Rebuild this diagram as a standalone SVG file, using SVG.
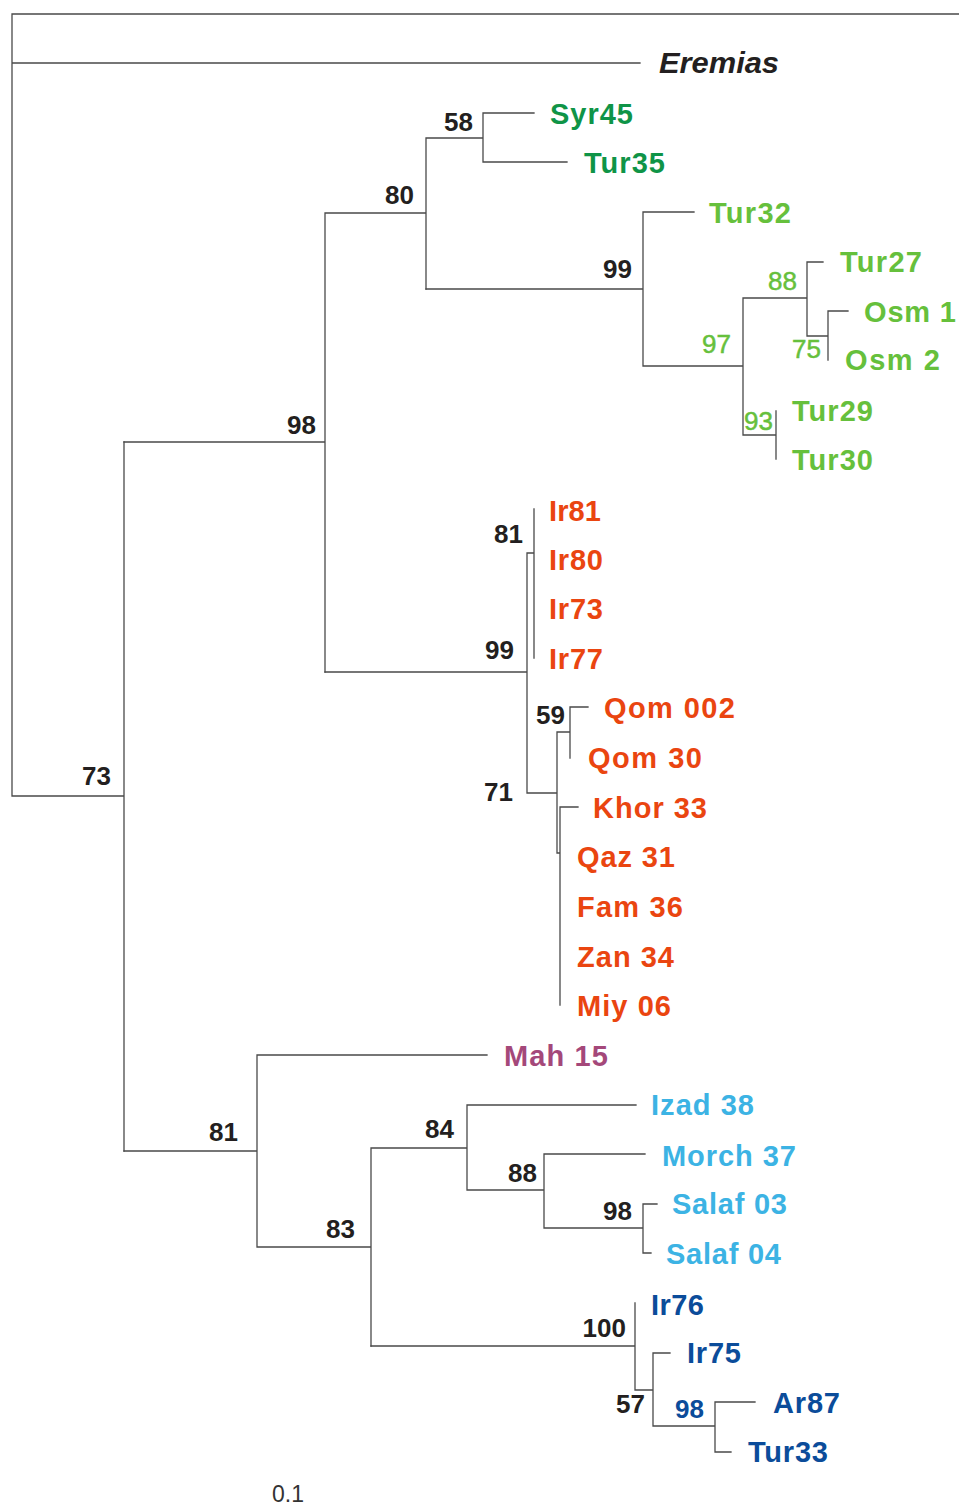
<svg xmlns="http://www.w3.org/2000/svg" width="959" height="1506" viewBox="0 0 959 1506">
<style>
.e{fill:none;stroke:#4a4a4a;stroke-width:1.3;stroke-linecap:square}
.t{font-family:"Liberation Sans",Arial,sans-serif;font-weight:bold;font-size:29px}
.b{font-family:"Liberation Sans",Arial,sans-serif;font-weight:bold;font-size:26px;fill:#231f20;text-anchor:end}
.bg{font-family:"Liberation Sans",Arial,sans-serif;font-size:26px;fill:#66c03c;text-anchor:end;stroke:#66c03c;stroke-width:0.5}
.dg{fill:#0f9447}.lg{fill:#66c03c}.or{fill:#ea4510}.pu{fill:#a4487a}.lb{fill:#3cb3e4}.db{fill:#0b4c9a}
</style>
<rect width="959" height="1506" fill="#fff"/>
<g id="connectors">
<path class="e" d="M12,14H959M12,14V796M12,63H640M12,796H124M124,442V1151"/>
<path class="e" d="M124,442H325M325,213V672M325,213H426M426,138V289M426,138H483M483,113V162M483,113H534M483,162H567"/>
<path class="e" d="M426,289H643M643,212V366M643,212H694M643,366H743M743,298V435M743,298H807M807,262V336M807,262H823M807,336H828M828,311V360M828,311H848M743,435H776M776,411V459"/>
<path class="e" d="M325,672H527M527,553V793M527,553H534M534,509V658M527,793H557M557,732V853M557,732H570M570,707V758M570,707H588M557,853H560M560,807V1005M560,807H578"/>
<path class="e" d="M124,1151H257M257,1055V1247M257,1055H487M257,1247H371M371,1148V1346M371,1148H467M467,1105V1190M467,1105H636M467,1190H544M544,1154V1228M544,1154H645M544,1228H643M643,1204V1253M643,1204H657M643,1253H651"/>
<path class="e" d="M371,1346H635M635,1303V1390M635,1390H653M653,1353V1426M653,1353H670M653,1426H715M715,1402V1452M715,1402H755M715,1452H731"/>
</g>
<g id="outgroup"><text x="659" y="73" class="t" font-style="italic" fill="#231f20" textLength="120" lengthAdjust="spacingAndGlyphs">Eremias</text></g>
<g id="leaves">
<text id="Syr45" x="550" y="124" class="t dg" textLength="83">Syr45</text>
<text id="Tur35" x="584" y="173" class="t dg" textLength="81">Tur35</text>
<text id="Tur32" x="709" y="223" class="t lg" textLength="82">Tur32</text>
<text id="Tur27" x="840" y="272" class="t lg" textLength="82">Tur27</text>
<text id="Osm1" x="864" y="322" class="t lg" textLength="92">Osm 1</text>
<text id="Osm2" x="845" y="370" class="t lg" textLength="95">Osm 2</text>
<text id="Tur29" x="792" y="421" class="t lg" textLength="81">Tur29</text>
<text id="Tur30" x="792" y="470" class="t lg" textLength="81">Tur30</text>
<text id="Ir81" x="549" y="521" class="t or" textLength="52">Ir81</text>
<text id="Ir80" x="549" y="570" class="t or" textLength="54">Ir80</text>
<text id="Ir73" x="549" y="619" class="t or" textLength="54">Ir73</text>
<text id="Ir77" x="549" y="669" class="t or" textLength="54">Ir77</text>
<text id="Qom002" x="604" y="718" class="t or" textLength="131">Qom 002</text>
<text id="Qom30" x="588" y="768" class="t or" textLength="114">Qom 30</text>
<text id="Khor33" x="593" y="818" class="t or" textLength="114">Khor 33</text>
<text id="Qaz31" x="577" y="867" class="t or" textLength="98">Qaz 31</text>
<text id="Fam36" x="577" y="917" class="t or" textLength="106">Fam 36</text>
<text id="Zan34" x="577" y="967" class="t or" textLength="97">Zan 34</text>
<text id="Miy06" x="577" y="1016" class="t or" textLength="94">Miy 06</text>
<text id="Mah15" x="504" y="1066" class="t pu" textLength="104">Mah 15</text>
<text id="Izad38" x="651" y="1115" class="t lb" textLength="103">Izad 38</text>
<text id="Morch37" x="662" y="1166" class="t lb" textLength="134">Morch 37</text>
<text id="Salaf03" x="672" y="1214" class="t lb" textLength="115">Salaf 03</text>
<text id="Salaf04" x="666" y="1264" class="t lb" textLength="115">Salaf 04</text>
<text id="Ir76" x="651" y="1315" class="t db" textLength="53">Ir76</text>
<text id="Ir75" x="687" y="1363" class="t db" textLength="54">Ir75</text>
<text id="Ar87" x="773" y="1413" class="t db" textLength="67">Ar87</text>
<text id="Tur33" x="748" y="1462" class="t db" textLength="80">Tur33</text>
</g>
<g id="support">
<text x="473" y="131" class="b">58</text>
<text x="414" y="204" class="b">80</text>
<text x="632" y="278" class="b">99</text>
<text x="316" y="434" class="b">98</text>
<text x="111" y="785" class="b">73</text>
<text x="731" y="353" class="bg">97</text>
<text x="797" y="290" class="bg">88</text>
<text x="821" y="358" class="bg">75</text>
<text x="773" y="430" class="bg">93</text>
<text x="523" y="543" class="b">81</text>
<text x="514" y="659" class="b">99</text>
<text x="565" y="724" class="b">59</text>
<text x="513" y="801" class="b">71</text>
<text x="238" y="1141" class="b">81</text>
<text x="454" y="1138" class="b">84</text>
<text x="537" y="1182" class="b">88</text>
<text x="355" y="1238" class="b">83</text>
<text x="632" y="1220" class="b">98</text>
<text x="626" y="1337" class="b">100</text>
<text x="645" y="1413" class="b">57</text>
<text x="704" y="1418" class="b" style="fill:#0b4c9a">98</text>
</g>
<g id="scale"><text x="272" y="1502" font-family="Liberation Sans,Arial,sans-serif" font-size="23" fill="#333">0.1</text></g>
</svg>
